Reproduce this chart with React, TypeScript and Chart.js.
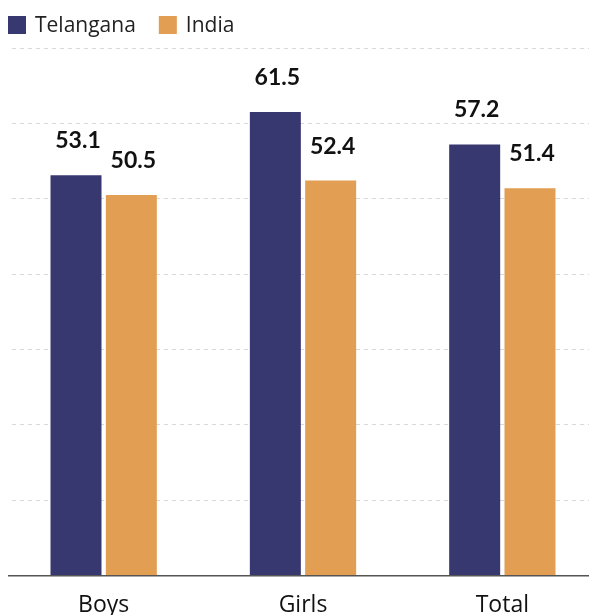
import React, { useEffect, useRef } from "react";
import { Chart, registerables } from "chart.js";

Chart.register(...registerables);

const categories = ["Boys", "Girls", "Total"];
const seriesNames = ["Telangana", "India"];
const telanganaValues = [53.1, 61.5, 57.2];
const indiaValues = [50.5, 52.4, 51.4];
const seriesColors = ["#383871", "#E29E52"];
const yTicks = [0, 10, 20, 30, 40, 50, 60, 70];

const FONT = "Lato, 'Noto Sans', sans-serif";
const TEXT_FONT = "'Open Sans', 'Noto Sans', sans-serif";

const valueLabels = {
  id: "valueLabels",
  afterDatasetsDraw(chart: any) {
    const ctx = chart.ctx;
    ctx.save();
    ctx.font = `bold 23px ${FONT}`;
    ctx.fillStyle = "#111111";
    ctx.textAlign = "center";
    ctx.textBaseline = "alphabetic";
    chart.data.datasets.forEach((ds: any, di: number) => {
      const meta = chart.getDatasetMeta(di);
      meta.data.forEach((bar: any, i: number) => {
        const v = ds.data[i];
        ctx.fillText(v.toFixed(1), bar.x + 2, bar.y - 27);
      });
    });
    ctx.restore();
  },
};

const topLegend = {
  id: "topLegend",
  afterDraw(chart: any) {
    const ctx = chart.ctx;
    ctx.save();
    ctx.font = `21px ${TEXT_FONT}`;
    ctx.textBaseline = "middle";
    ctx.textAlign = "left";
    let x = 4;
    const y = 8;
    const box = 18;
    chart.data.datasets.forEach((ds: any) => {
      ctx.fillStyle = ds.backgroundColor;
      ctx.fillRect(x, y, box, box);
      ctx.fillStyle = "#222222";
      const tx = x + box + 9;
      ctx.fillText(ds.label, tx, y + box / 2 + 1);
      x = tx + ctx.measureText(ds.label).width + 23;
    });
    ctx.restore();
  },
};

export default function App() {
  const ref = useRef<HTMLCanvasElement | null>(null);
  useEffect(() => {
    if (!ref.current) return;
    const chart = new Chart(ref.current, {
      type: "bar",
      data: {
        labels: categories,
        datasets: [
          {
            label: seriesNames[0],
            data: telanganaValues,
            backgroundColor: seriesColors[0],
            barPercentage: 0.922,
            categoryPercentage: 0.555,
          },
          {
            label: seriesNames[1],
            data: indiaValues,
            backgroundColor: seriesColors[1],
            barPercentage: 0.922,
            categoryPercentage: 0.555,
          },
        ],
      },
      options: {
        animation: false,
        responsive: true,
        maintainAspectRatio: false,
        layout: { padding: { top: 40, left: 0, right: 0, bottom: 0 } },
        plugins: {
          legend: { display: false },
          tooltip: { enabled: false },
        },
        scales: {
          x: {
            grid: { display: false, drawTicks: false },
            border: { display: true, color: "#555555", width: 1.5 },
            ticks: {
              color: "#111111",
              padding: 16,
              font: { family: TEXT_FONT, size: 23 },
            },
          },
          y: {
            min: yTicks[0],
            max: yTicks[yTicks.length - 1],
            afterBuildTicks: (scale: any) => {
              scale.ticks = yTicks.map((v) => ({ value: v }));
            },
            ticks: { display: false },
            border: { display: false, dash: [4, 4] },
            grid: { color: "#d9d9d9", drawTicks: false, lineWidth: 1 },
          },
        },
      },
      plugins: [valueLabels, topLegend],
    });
    return () => chart.destroy();
  }, []);

  return (
    <div style={{ position: "relative", width: 589, height: 607, overflow: "hidden" }}>
      <div style={{ position: "absolute", left: -4, top: 0, width: 598, height: 627 }}>
        <canvas ref={ref} />
      </div>
    </div>
  );
}
